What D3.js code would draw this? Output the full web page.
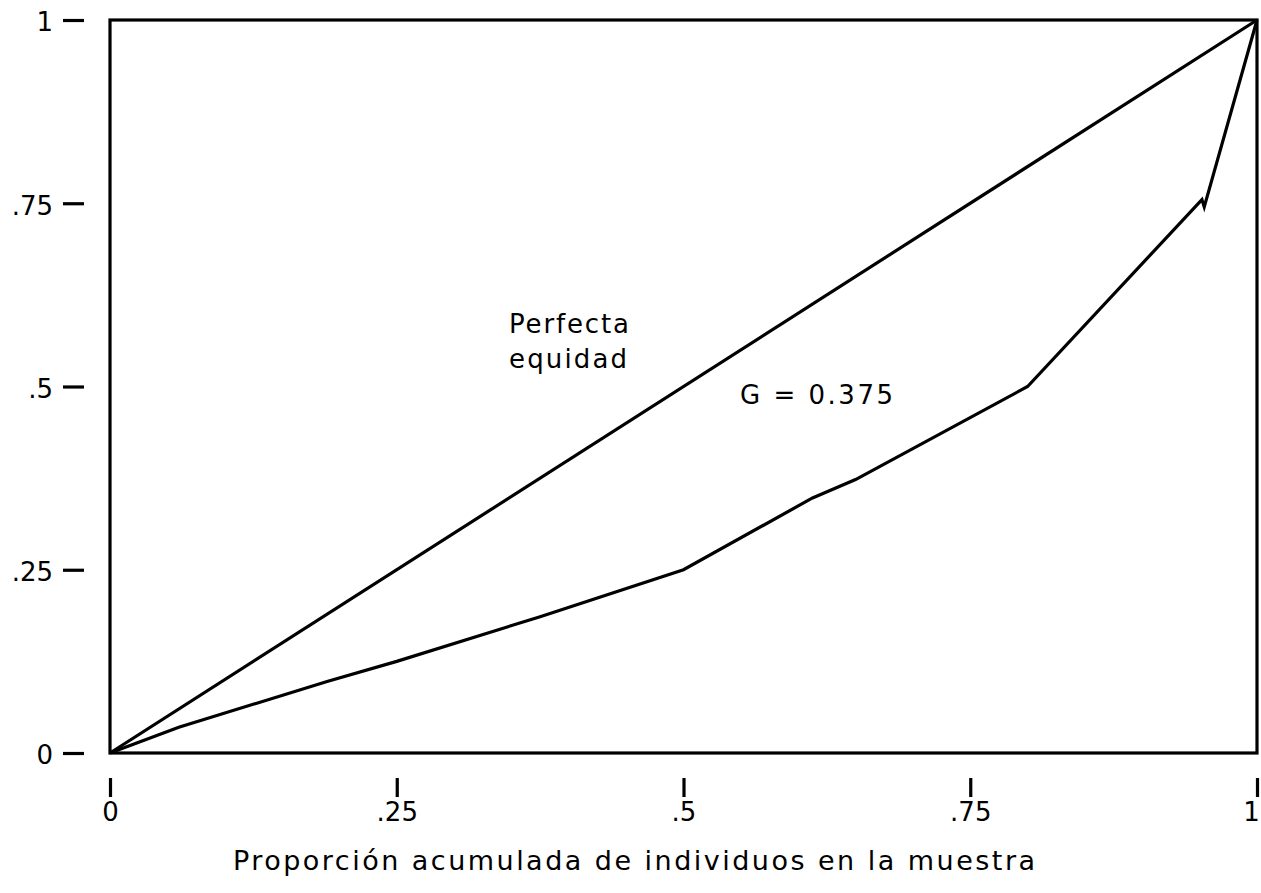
<!DOCTYPE html>
<html>
<head>
<meta charset="utf-8">
<script src="https://cdn.jsdelivr.net/npm/d3@7"></script>
<style>
  html, body { margin: 0; padding: 0; background: #fff; }
  svg { display: block; }
</style>
</head>
<body>
<svg id="chart" width="1261" height="893"></svg>
<script>
// ---- data ----
const lorenzX = [0, 0.06, 0.19, 0.25, 0.375, 0.5, 0.6125, 0.65, 0.8, 0.952, 0.954, 1];
const lorenzY = [0, 0.035, 0.098, 0.125, 0.186, 0.25, 0.348, 0.373, 0.5, 0.755, 0.745, 1];
const equalityX = [0, 1];
const equalityY = [0, 1];
const tickValues = [0, 0.25, 0.5, 0.75, 1];
const tickLabels = ["0", ".25", ".5", ".75", "1"];
const annotationLines = ["Perfecta", "equidad"];
const giniLabel = "G = 0.375";
const xTitle = "Proporción acumulada de individuos en la muestra";

// ---- layout ----
const plotLeft = 110, plotRight = 1257, plotTop = 20, plotBottom = 753;
const svg = d3.select("#chart");
const x = d3.scaleLinear().domain([0, 1]).range([plotLeft, plotRight]);
const y = d3.scaleLinear().domain([0, 1]).range([plotBottom, plotTop]);
const tickFont = "'DejaVu Sans', Verdana, sans-serif";
const annFont = "'DejaVu Sans', Verdana, sans-serif";

// frame
svg.append("rect")
  .attr("x", plotLeft).attr("y", plotTop)
  .attr("width", plotRight - plotLeft).attr("height", plotBottom - plotTop)
  .attr("fill", "none").attr("stroke", "#000").attr("stroke-width", 3.2);

// axes
const fmt = (d) => tickLabels[tickValues.indexOf(d)];
const yAxis = svg.append("g")
  .attr("transform", `translate(${plotLeft - 26},0)`)
  .call(d3.axisLeft(y).tickValues(tickValues).tickFormat(fmt).tickSize(21).tickPadding(10));
const xAxis = svg.append("g")
  .attr("transform", `translate(0,${plotBottom + 25})`)
  .call(d3.axisBottom(x).tickValues(tickValues).tickFormat(fmt).tickSize(19).tickPadding(6));
[yAxis, xAxis].forEach(g => {
  g.attr("font-size", 26).attr("font-family", tickFont);
  g.select(".domain").remove();
  g.selectAll(".tick line").attr("stroke", "#000").attr("stroke-width", 3.2);
  g.selectAll(".tick text").attr("fill", "#000")
    .attr("font-size", 26).attr("font-family", tickFont);
});
yAxis.selectAll(".tick text").attr("dy", "0.42em");
xAxis.selectAll(".tick text").filter(d => d === 1).attr("dx", -6);

// lines
const line = d3.line().x(d => x(d[0])).y(d => y(d[1]));
svg.append("path")
  .datum(equalityX.map((v, i) => [v, equalityY[i]]))
  .attr("d", line).attr("fill", "none").attr("stroke", "#000")
  .attr("stroke-width", 3.2).attr("stroke-linejoin", "round");
svg.append("path")
  .datum(lorenzX.map((v, i) => [v, lorenzY[i]]))
  .attr("d", line).attr("fill", "none").attr("stroke", "#000")
  .attr("stroke-width", 3.2).attr("stroke-linejoin", "miter");

// annotations
svg.append("text").attr("x", 509).attr("y", 333)
  .attr("textLength", 120).attr("lengthAdjust", "spacing")
  .attr("font-family", annFont).attr("font-size", 26).text(annotationLines[0]);
svg.append("text").attr("x", 509).attr("y", 368)
  .attr("textLength", 118).attr("lengthAdjust", "spacing")
  .attr("font-family", annFont).attr("font-size", 26).text(annotationLines[1]);
svg.append("text").attr("x", 740).attr("y", 404)
  .attr("textLength", 153).attr("lengthAdjust", "spacing")
  .attr("font-family", annFont).attr("font-size", 26).text(giniLabel);

// x title
svg.append("text").attr("x", 233).attr("y", 870)
  .attr("textLength", 802).attr("lengthAdjust", "spacing")
  .attr("font-family", annFont).attr("font-size", 27).text(xTitle);
</script>
</body>
</html>
